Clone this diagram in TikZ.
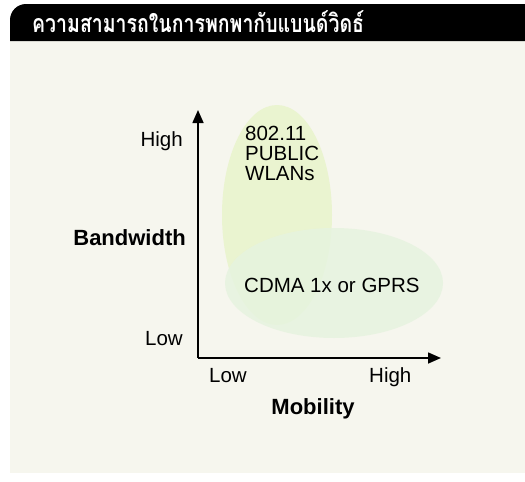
\documentclass[tikz,border=0pt]{standalone}
\usepackage{fontspec}
\setmainfont{Liberation Sans}
\newfontfamily\thaifont[Script=Thai,FakeStretch=0.78]{Loma}
\usetikzlibrary{arrows.meta}
\definecolor{panelbg}{HTML}{F6F6EE}
\definecolor{ellA}{HTML}{EAF4D0}
\definecolor{ellB}{HTML}{E6F3DF}
\tikzset{
  lbl/.style={inner sep=0pt, font=\fontsize{20.5}{20}\selectfont},
  blbl/.style={inner sep=0pt, font=\fontsize{22}{24}\selectfont\bfseries},
  axis/.style={line width=1.6pt, -{Triangle[length=13pt,width=11pt]}}
}
\begin{document}
\begin{tikzpicture}[x=1pt,y=-1pt]
\useasboundingbox (0,0) rectangle (525,482);
\fill[white] (0,0) rectangle (525,482);
\fill[panelbg] (10,41) rectangle (525,473);
\fill[black] (10,41) [rounded corners=16pt]-- (10,4) [sharp corners]-- (525,4) -- (525,41) -- cycle;
\node[anchor=base west, inner sep=0pt, text=white, font=\thaifont\bfseries\fontsize{25}{28}\selectfont] (title) at (32,32) {ความสามารถในการพกพากับแบนด์วิดธ์};
% ellipses
\fill[ellA] (277,215) ellipse[x radius=55, y radius=110];
\fill[ellB, opacity=0.85] (334,283) ellipse[x radius=109, y radius=55];
% axes
\coordinate (o) at (198,358);
\coordinate (ytip) at (198,110);
\coordinate (xtip) at (441,358);
\draw[axis] (o) -- (ytip);
\draw[axis] (o) -- (xtip);
% texts
\node[lbl, anchor=base west, align=left] (wlan) at (245,180) {802.11\\PUBLIC\\WLANs};
\node[lbl, anchor=base west] (cdma) at (244,292) {CDMA 1x or GPRS};
\node[lbl, anchor=base east] (yhigh) at (183,146) {High};
\node[blbl, anchor=base east] (bw) at (186,245) {Bandwidth};
\node[lbl, anchor=base east] (ylow) at (183,345) {Low};
\node[lbl, anchor=base west] (xlow) at (209,382) {Low};
\node[lbl, anchor=base west] (xhigh) at (369,382) {High};
\node[blbl, anchor=base] (mob) at (313,414) {Mobility};
\end{tikzpicture}
\end{document}
